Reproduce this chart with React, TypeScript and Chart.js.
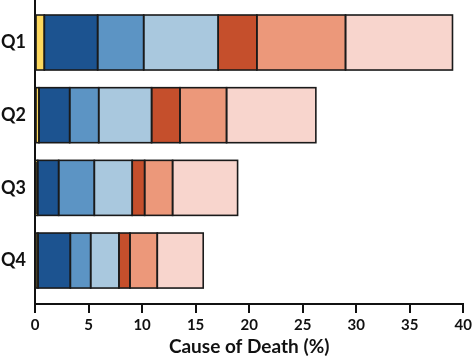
import React, { useEffect, useRef } from "react";
import { Chart, registerables } from "chart.js";

Chart.register(...registerables);

// Categories (y axis)
const categories = ["Q1", "Q2", "Q3", "Q4"];

// Stacked segment values (% of deaths)
const cause1 = [0.87, 0.37, 0.25, 0.28];
const cause2 = [4.98, 2.87, 1.96, 3.02];
const cause3 = [4.3, 2.71, 3.33, 1.9];
const cause4 = [6.96, 4.94, 3.54, 2.64];
const cause5 = [3.61, 2.65, 1.16, 1.03];
const cause6 = [8.28, 4.35, 2.61, 2.55];
const cause7 = [9.99, 8.34, 6.07, 4.29];

const seriesNames = ["Cause 1", "Cause 2", "Cause 3", "Cause 4", "Cause 5", "Cause 6", "Cause 7"];
const seriesValues = [cause1, cause2, cause3, cause4, cause5, cause6, cause7];
const seriesColors = ["#fdd95e", "#1c5390", "#5c94c4", "#a9c8de", "#c54f2c", "#ec987a", "#f8d5cd"];

const xMin = 0;
const xMax = 40;
const xStep = 5;
const xTitle = "Cause of Death (%)";

const FONT = "Lato, 'Open Sans', sans-serif";

// Strokes each bar's outline centred on its edge (like the reference)
const outlinePlugin = {
  id: "barOutline",
  afterDatasetsDraw(chart: any) {
    const ctx = chart.ctx;
    ctx.save();
    ctx.strokeStyle = "#1a1a1a";
    ctx.lineWidth = 1.6;
    chart.data.datasets.forEach((_: any, di: number) => {
      const meta = chart.getDatasetMeta(di);
      meta.data.forEach((el: any) => {
        const { x, y, base, height } = el.getProps(["x", "y", "base", "height"], true);
        const left = Math.min(x, base);
        const w = Math.abs(x - base);
        ctx.strokeRect(left, y - height / 2, w, height);
      });
    });
    ctx.restore();
  },
};

export default function App() {
  const ref = useRef<HTMLCanvasElement | null>(null);

  useEffect(() => {
    if (!ref.current) return;
    const chart = new Chart(ref.current, {
      type: "bar",
      data: {
        labels: categories,
        datasets: seriesValues.map((vals, i) => ({
          label: seriesNames[i],
          data: vals,
          backgroundColor: seriesColors[i],
          borderWidth: 0,
          barPercentage: 1,
          categoryPercentage: 0.757,
        })),
      },
      plugins: [outlinePlugin],
      options: {
        indexAxis: "y",
        responsive: false,
        animation: false,
        layout: { padding: { left: 0, right: 9.7, top: 0, bottom: 0 } },
        plugins: { legend: { display: false }, tooltip: { enabled: false } },
        scales: {
          x: {
            type: "linear",
            stacked: true,
            min: xMin,
            max: xMax,
            ticks: {
              stepSize: xStep,
              color: "#111",
              font: { family: FONT, size: 15, weight: "bold" },
              padding: 3,
              maxRotation: 0,
            },
            grid: {
              display: true,
              drawOnChartArea: false,
              drawTicks: true,
              tickLength: 9,
              color: "#111",
              lineWidth: 2,
            },
            border: { display: true, color: "#111", width: 2 },
            title: {
              display: true,
              text: xTitle,
              color: "#111",
              font: { family: FONT, size: 19, weight: "bold" },
              padding: { top: 0, bottom: 0 },
            },
            afterFit: (scale: any) => {
              scale.height = 54;
              scale.paddingLeft = 0;
              scale.paddingRight = 0;
            },
          },
          y: {
            type: "category",
            stacked: true,
            ticks: {
              color: "#111",
              font: { family: FONT, size: 18, weight: "bold" },
              padding: 9,
            },
            grid: { display: false, drawTicks: false },
            border: { display: true, color: "#111", width: 2 },
            afterBuildTicks: (scale: any) => {
              scale._startValue = -0.585;
              scale._valueRange = 4.183;
            },
            afterFit: (scale: any) => {
              scale.width = 35;
              scale.paddingTop = 0;
              scale.paddingBottom = 0;
            },
          },
        },
      },
    });
    return () => chart.destroy();
  }, []);

  return (
    <div style={{ position: "fixed", left: 0, top: 0, width: 473, height: 358, background: "#fff" }}>
      <canvas ref={ref} width={473} height={358} style={{ display: "block" }} />
    </div>
  );
}
